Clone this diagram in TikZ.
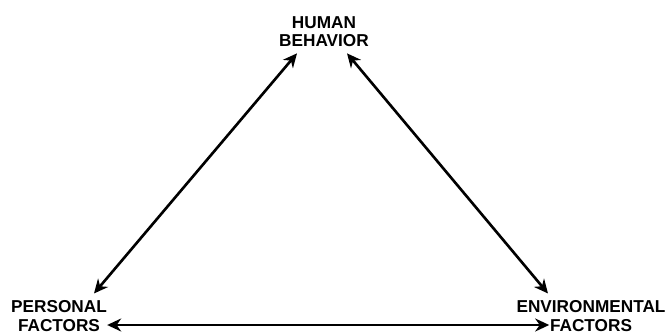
\documentclass[tikz,border=0pt]{standalone}
\usepackage{fontspec}
\setmainfont{Liberation Sans}
\usepackage{tikz}
\usetikzlibrary{arrows.meta, positioning}

\begin{document}
\begin{tikzpicture}[
  x=0.02cm, y=-0.02cm,
  lbl/.style={inner sep=0pt, align=center,
              font=\fontsize{9.8}{10.6}\selectfont\bfseries},
  arr/.style={{Stealth[length=0.28cm, width=0.26cm]}-{Stealth[length=0.28cm, width=0.26cm]},
              line width=1.5pt}
]
  \useasboundingbox (0,0) rectangle (669,334);

  \node[lbl, anchor=north] (human)    at (324,16)  {HUMAN\\BEHAVIOR};
  \node[lbl, anchor=south] (personal) at (59,332)  {PERSONAL\\FACTORS};
  \node[lbl, anchor=south] (environ)  at (591,332) {ENVIRONMENTAL\\FACTORS};

  \draw[arr] ([xshift=-0.54cm, yshift=-0.12cm]human.south)
          -- ([xshift=0.7cm, yshift=0.14cm]personal.north);
  \draw[arr] ([xshift=0.46cm, yshift=-0.12cm]human.south)
          -- ([xshift=-0.86cm, yshift=0.14cm]environ.north);
  \draw[arr] ([yshift=0.14cm]personal.south east)
          -- ([xshift=0.66cm, yshift=0.14cm]environ.south west);
\end{tikzpicture}
\end{document}
